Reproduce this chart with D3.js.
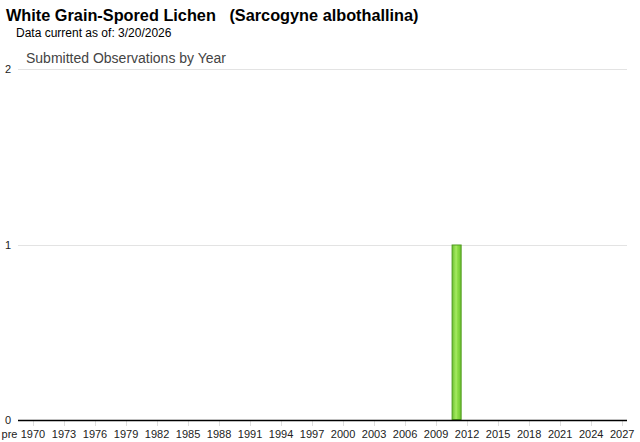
<!DOCTYPE html>
<html>
<head>
<meta charset="utf-8">
<script src="https://cdn.jsdelivr.net/npm/d3@7"></script>
<style>
  body { margin: 0; background: #fff; font-family: Arial, "Liberation Sans", sans-serif; }
  #chart svg { display: block; }
</style>
</head>
<body>
<div id="chart"></div>
<script>
var title = 'White Grain-Spored Lichen\u00a0\u00a0\u00a0(Sarcogyne albothallina)';
var subtitle = 'Data current as of: 3/20/2026';
var chartTitle = 'Submitted Observations by Year';

// categories along x
var years = [
  'pre', '1970', '1971', '1972', '1973', '1974', '1975', '1976', '1977', '1978',
  '1979', '1980', '1981', '1982', '1983', '1984', '1985', '1986', '1987', '1988',
  '1989', '1990', '1991', '1992', '1993', '1994', '1995', '1996', '1997', '1998',
  '1999', '2000', '2001', '2002', '2003', '2004', '2005', '2006', '2007', '2008',
  '2009', '2010', '2011', '2012', '2013', '2014', '2015', '2016', '2017', '2018',
  '2019', '2020', '2021', '2022', '2023', '2024', '2025', '2026', '2027'
];

// observations per year
var counts = [
  0, 0, 0, 0, 0, 0, 0, 0, 0, 0,
  0, 0, 0, 0, 0, 0, 0, 0, 0, 0,
  0, 0, 0, 0, 0, 0, 0, 0, 0, 0,
  0, 0, 0, 0, 0, 0, 0, 0, 0, 0,
  0, 0, 1, 0, 0, 0, 0, 0, 0, 0,
  0, 0, 0, 0, 0, 0, 0, 0, 0
];

var xLabels = [
  '1970', '1973', '1976', '1979', '1982', '1985', '1988', '1991', '1994', '1997',
  '2000', '2003', '2006', '2009', '2012', '2015', '2018', '2021', '2024', '2027'
];

var yTicks = [0, 1, 2];

var width = 640,
    height = 442;

var svg = d3.select('#chart')
  .append('svg')
    .attr('width', width)
    .attr('height', height);

// gradient for bar
var grad = svg.append('defs').append('linearGradient')
    .attr('id', 'barGrad')
    .attr('x1', '0%').attr('x2', '100%')
    .attr('y1', '0%').attr('y2', '0%');
grad.append('stop').attr('offset', '0%').attr('stop-color', '#6cc22e');
grad.append('stop').attr('offset', '45%').attr('stop-color', '#a6ea62');
grad.append('stop').attr('offset', '60%').attr('stop-color', '#8ede46');
grad.append('stop').attr('offset', '100%').attr('stop-color', '#6cc22e');

// titles
svg.append('text')
  .attr('x', 6).attr('y', 21)
  .style('font-size', '16.3px')
  .style('font-weight', 'bold')
  .style('fill', '#000')
  .text(title);

svg.append('text')
  .attr('x', 16).attr('y', 37)
  .style('font-size', '12px')
  .style('fill', '#000')
  .text(subtitle);

svg.append('text')
  .attr('x', 26).attr('y', 63)
  .style('font-size', '14px')
  .style('fill', '#444')
  .text(chartTitle);

// scales
var x = d3.scaleBand()
  .domain(years)
  .range([17.5, 627])
  .paddingInner(0.03)
  .paddingOuter(0);

var y = d3.scaleLinear()
  .domain([0, 2])
  .range([420, 69]);

// gridlines
svg.selectAll('.grid')
    .data(yTicks.filter(function(d) { return d > 0; }))
  .enter().append('line')
    .attr('class', 'grid')
    .attr('x1', 18).attr('x2', 627)
    .attr('y1', function(d) { return Math.round(y(d)) + 0.5; })
    .attr('y2', function(d) { return Math.round(y(d)) + 0.5; })
    .style('stroke', '#e3e3e3')
    .style('stroke-width', 1);

// y labels
svg.selectAll('.ylab')
    .data(yTicks)
  .enter().append('text')
    .attr('class', 'ylab')
    .attr('x', 8)
    .attr('y', function(d) { return y(d) + 4; })
    .attr('text-anchor', 'middle')
    .style('font-size', '11px')
    .style('fill', '#222')
    .text(function(d) { return d; });

// x tick marks
var center = function(d) { return x(d) + x.step() / 2; };

svg.selectAll('.xtick')
    .data(xLabels)
  .enter().append('line')
    .attr('class', 'xtick')
    .attr('x1', function(d) { return Math.round(center(d)) + 0.5; })
    .attr('x2', function(d) { return Math.round(center(d)) + 0.5; })
    .attr('y1', 421).attr('y2', 426)
    .style('stroke', '#ddd');

// bars
svg.selectAll('.bar')
    .data(years.filter(function(d, i) { return counts[i] > 0; }))
  .enter().append('rect')
    .attr('class', 'bar')
    .attr('x', function(d) { return x(d) + 0.5; })
    .attr('y', function(d) { return y(counts[years.indexOf(d)]) + 0.5; })
    .attr('width', x.bandwidth() - 1)
    .attr('height', function(d) { return y(0) - y(counts[years.indexOf(d)]) - 1; })
    .style('fill', 'url(#barGrad)')
    .style('stroke', '#4f9a1e')
    .style('stroke-width', 1);

// baseline
svg.append('line')
  .attr('x1', 18).attr('x2', 627)
  .attr('y1', y(0) + 0.5).attr('y2', y(0) + 0.5)
  .style('stroke', '#000')
  .style('stroke-width', 1.5);

// x labels
svg.selectAll('.xlab')
    .data(xLabels)
  .enter().append('text')
    .attr('class', 'xlab')
    .attr('x', function(d) { return center(d); })
    .attr('y', 438)
    .attr('text-anchor', 'middle')
    .style('font-size', '11px')
    .style('fill', '#222')
    .text(function(d) { return d; });

// "pre" sits just left of its band
svg.append('text')
  .attr('x', x('pre'))
  .attr('y', 438)
  .attr('text-anchor', 'end')
  .style('font-size', '11px')
  .style('fill', '#222')
  .text(years[0]);
</script>
</body>
</html>
